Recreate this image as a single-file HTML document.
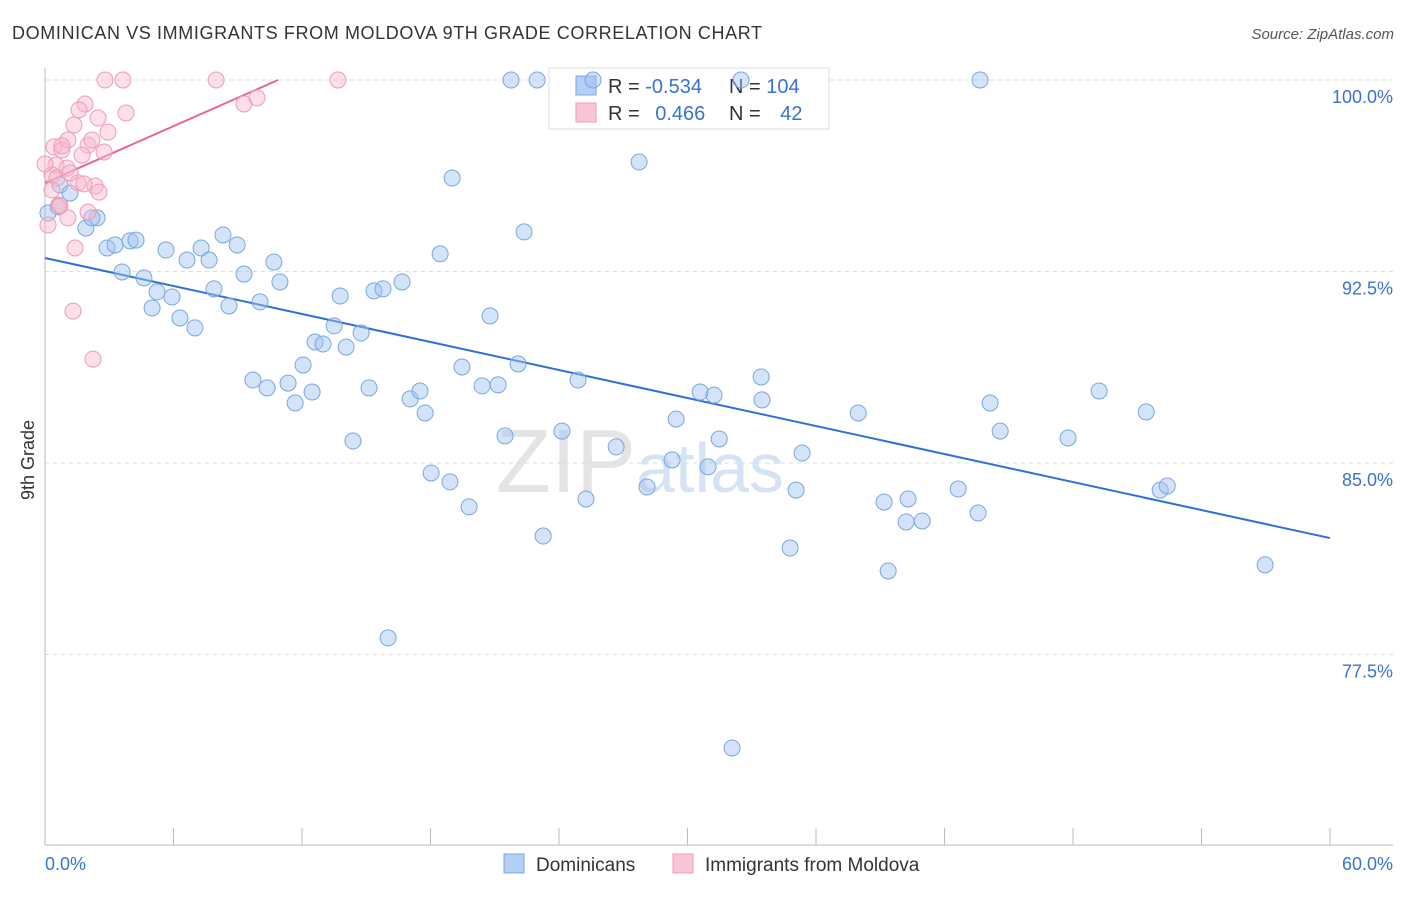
<!DOCTYPE html>
<html><head><meta charset="utf-8"><style>
body{margin:0;background:#fff;font-family:"Liberation Sans",sans-serif;}
svg text{font-family:"Liberation Sans",sans-serif;}
</style></head><body>
<svg id="chart" width="1406" height="892">
<text x="12" y="39" font-size="18" fill="#333" textLength="750">DOMINICAN VS IMMIGRANTS FROM MOLDOVA 9TH GRADE CORRELATION CHART</text>
<text x="1394" y="39" font-size="15" fill="#555" font-style="italic" text-anchor="end">Source: ZipAtlas.com</text>
<text x="640" y="492" font-size="90" fill="#e4e4e4" text-anchor="middle" font-family="Liberation Serif">ZIP<tspan fill="#d6e3f5" font-family="Liberation Sans" font-size="70">atlas</tspan></text>
<g id="grid"></g><g id="axes"></g><g id="lines"></g>
<g>
<rect x="549" y="68" width="280" height="61" fill="#fff" stroke="#ddd"/>
<rect x="576" y="76" width="20" height="19" fill="#b3cff3" stroke="#7aa5e3"/>
<rect x="576" y="103" width="20" height="19" fill="#fac6d5" stroke="#ee9cb5"/>
<text x="608" y="93" font-size="20" fill="#333">R = <tspan fill="#3a72d0">-0.534</tspan></text>
<text x="729" y="93" font-size="20" fill="#333">N = <tspan fill="#3a72d0">104</tspan></text>
<text x="608" y="120" font-size="20" fill="#333">R = <tspan fill="#3a72d0" dx="10">0.466</tspan></text>
<text x="729" y="120" font-size="20" fill="#333">N = <tspan fill="#3a72d0" dx="14">42</tspan></text>
</g>
<g id="pts"></g>
<text x="34" y="460" font-size="18" fill="#333" text-anchor="middle" transform="rotate(-90 34 460)">9th Grade</text>
<g>
<rect x="504" y="854" width="20" height="19" fill="#b3cff3" stroke="#7aa5e3"/>
<text x="536" y="871" font-size="19" fill="#333">Dominicans</text>
<rect x="673" y="854" width="20" height="19" fill="#fac6d5" stroke="#ee9cb5"/>
<text x="705" y="871" font-size="19" fill="#333">Immigrants from Moldova</text>
</g>
</svg>
<script>
const blueX=[0.70,1.17,1.91,2.43,2.19,2.90,3.27,3.97,4.25,3.60,4.62,5.23,5.93,5.00,6.30,7.00,5.65,6.63,7.29,7.66,7.89,8.31,8.97,9.29,8.59,10.04,10.69,10.97,9.71,10.37,11.35,11.68,12.47,12.05,12.61,12.98,13.50,14.06,14.76,13.78,15.36,15.78,16.67,15.13,14.38,16.02,17.05,17.51,17.75,18.03,18.91,19.80,18.45,19.01,19.47,20.41,21.16,21.48,20.78,22.09,22.37,23.26,24.14,24.89,25.26,26.67,28.11,27.74,29.28,29.47,30.59,31.24,30.96,31.48,32.08,33.44,33.48,35.07,34.79,35.35,37.97,39.18,39.37,40.21,40.30,40.96,42.64,43.66,43.57,44.13,44.60,47.77,49.22,51.42,52.07,52.40,56.97,21.76,22.98,32.50,25.59,0.61,0.14];
const blueY=[95.89,95.57,94.20,94.60,94.60,93.42,93.54,93.70,93.73,92.48,92.25,91.70,91.50,91.07,90.68,90.29,93.34,92.95,93.42,92.95,91.82,93.93,93.54,92.40,91.15,91.31,92.87,92.09,88.25,87.94,88.13,87.35,87.78,88.84,89.74,89.66,90.37,89.54,90.09,91.54,91.74,91.82,92.09,87.94,85.86,78.15,87.51,87.82,86.96,84.61,84.26,83.28,93.19,96.16,88.76,88.02,88.06,86.06,90.76,88.88,94.05,82.14,86.25,88.25,83.59,85.63,84.06,96.79,85.12,86.72,87.78,87.66,84.85,85.94,73.84,88.37,87.47,83.94,81.67,85.39,86.96,83.47,80.77,82.69,83.59,82.73,83.98,100.0,83.04,87.35,86.25,85.98,87.82,87.00,83.94,84.10,81.01,100,100,100,100,95.03,94.79];
const pinkX=[2.80,3.64,7.99,13.68,9.29,9.90,3.78,1.87,1.59,2.48,1.35,2.94,1.07,2.01,0.42,0.79,2.76,1.73,0.51,1.03,0.33,1.54,2.34,0.56,2.52,0.33,0.65,2.01,1.07,1.40,1.31,2.24,0.14,0.79,2.19,1.17,1.82,0.0,0.70];
const pinkY=[100,100,100,100,99.06,99.30,98.71,99.06,98.83,98.51,98.24,97.96,97.65,97.45,97.38,97.26,97.18,97.06,96.67,96.55,96.28,95.97,95.85,96.16,95.61,95.69,95.10,94.83,94.60,93.42,90.95,89.07,94.32,97.42,97.65,96.36,95.93,96.71,95.07];
const blueLine=[[0,93.03],[60,82.06]];
const pinkLine=[[0,95.97],[10.88,100]];
const yTicks=[100,92.5,85,77.5];
const xTicks=[0,6,12,18,24,30,36,42,48,54,60];
const NS="http://www.w3.org/2000/svg";
const sx=v=>45+v/60*1285;
const sy=v=>80+(100-v)/7.5*191.5;
function mk(t,a,p){const e=document.createElementNS(NS,t);for(const k in a)e.setAttribute(k,a[k]);document.getElementById(p).appendChild(e);return e;}
yTicks.forEach(v=>{
 let l=mk('line',{x1:45,x2:1393,y1:sy(v),y2:sy(v),stroke:'#ddd','stroke-dasharray':'4 4'},'grid');
 
 
 let t=mk('text',{x:1393,y:sy(v)+23,'font-size':18,fill:'#3a72d0','text-anchor':'end'},'grid');
 t.textContent=(v===100?'100.0':v.toFixed(1))+'%';
 
 
});
mk('line',{x1:45,x2:45,y1:68,y2:845,stroke:'#bbb'},'axes');
mk('line',{x1:45,x2:1393,y1:845,y2:845,stroke:'#bbb'},'axes');
xTicks.forEach(v=>{
 let l=mk('line',{x1:sx(v),x2:sx(v),y1:828,y2:845,stroke:'#bbb'},'axes');
 
 
});
let t0=mk('text',{x:45,y:870,'font-size':18,fill:'#3a72d0'},'axes');t0.textContent='0.0%';


let t1=mk('text',{x:1393,y:870,'font-size':18,fill:'#3a72d0','text-anchor':'end'},'axes');t1.textContent='60.0%';


blueX.forEach((x,i)=>{
 let c=mk('circle',{cx:sx(x),cy:sy(blueY[i]),r:8,fill:'rgba(160,195,240,0.45)',stroke:'#7aa5e3','stroke-width':1},'pts');
 
 
});
pinkX.forEach((x,i)=>{
 let c=mk('circle',{cx:sx(x),cy:sy(pinkY[i]),r:8,fill:'rgba(248,185,205,0.45)',stroke:'#ee9cb5','stroke-width':1},'pts');
 
 
});
let bl=mk('line',{x1:sx(blueLine[0][0]),y1:sy(blueLine[0][1]),x2:sx(blueLine[1][0]),y2:sy(blueLine[1][1]),stroke:'#2f6fd6','stroke-width':2},'lines');


let pl=mk('line',{x1:sx(pinkLine[0][0]),y1:sy(pinkLine[0][1]),x2:sx(pinkLine[1][0]),y2:sy(pinkLine[1][1]),stroke:'#e8668f','stroke-width':2},'lines');


</script>
</body></html>
